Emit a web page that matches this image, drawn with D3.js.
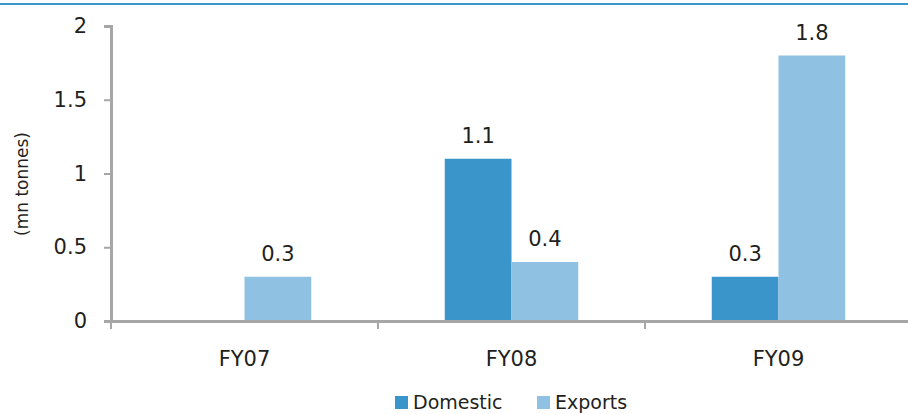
<!DOCTYPE html>
<html>
<head>
<meta charset="utf-8">
<script src="https://cdn.jsdelivr.net/npm/d3@7"></script>
<style>
  body { margin: 0; background: #fff; }
  text { font-family: "DejaVu Sans", sans-serif; fill: #231F20; }
</style>
</head>
<body>
<script>
// data
var categories = ["FY07", "FY08", "FY09"];
var seriesNames = ["Domestic", "Exports"];
var domestic = [0, 1.1, 0.3];
var exportsVals = [0.3, 0.4, 1.8];
var yTicks = [0, 0.5, 1, 1.5, 2];
var colors = ["#3A96CA", "#8FC1E3"];

var W = 908, H = 414;
var margin = { top: 26, right: -4, bottom: 93, left: 111 };
var width = W - margin.left - margin.right,
  height = H - margin.top - margin.bottom;

var svg = d3.select("body").append("svg").attr("width", W).attr("height", H);

// top rule
svg.append("rect").attr("x", 0).attr("y", 3).attr("width", W).attr("height", 2).attr("fill", "#3A96CA");

var g = svg.append("g").attr("transform", "translate(" + margin.left + "," + margin.top + ")");

var x0 = d3.scaleBand().domain(categories).range([0, width]);
var x1 = d3.scaleBand().domain(seriesNames)
  .range([x0.bandwidth() * 0.25, x0.bandwidth() * 0.75]);
var y = d3.scaleLinear().domain([0, 2]).range([height, 0]);

var rows = categories.map(function (c, i) {
  return { cat: c, vals: [
    { key: "Domestic", v: domestic[i] },
    { key: "Exports", v: exportsVals[i] }
  ] };
});

// bars
var grp = g.selectAll(".grp").data(rows).enter().append("g")
  .attr("transform", function (d) { return "translate(" + x0(d.cat) + ",0)"; });

grp.selectAll("rect")
  .data(function (d) { return d.vals.filter(function (e) { return e.v > 0; }); })
  .enter().append("rect")
  .attr("x", function (d) { return x1(d.key); })
  .attr("y", function (d) { return y(d.v); })
  .attr("width", x1.bandwidth())
  .attr("height", function (d) { return height - y(d.v); })
  .attr("fill", function (d) { return colors[seriesNames.indexOf(d.key)]; });

grp.selectAll(".lbl")
  .data(function (d) { return d.vals.filter(function (e) { return e.v > 0; }); })
  .enter().append("text")
  .attr("class", "lbl")
  .attr("x", function (d) { return x1(d.key) + x1.bandwidth() / 2; })
  .attr("y", function (d) { return y(d.v) - 16; })
  .attr("text-anchor", "middle")
  .style("font-size", "21px")
  .text(function (d) { return d.v; });

// y axis
var yAxis = g.append("g").call(
  d3.axisLeft(y).tickValues(yTicks).tickSize(7).tickPadding(17)
    .tickFormat(function (d) { return d; })
);
yAxis.selectAll("text").style("font-size", "21px");

// x axis
var xAxis = g.append("g").attr("transform", "translate(0," + height + ")")
  .call(d3.axisBottom(x0).tickSize(0));
xAxis.selectAll("text").style("font-size", "21px").attr("y", 45).attr("dy", 0);
xAxis.selectAll(".bound").data(d3.range(categories.length + 1)).enter().append("line")
  .attr("x1", function (i) { return i * x0.step(); })
  .attr("x2", function (i) { return i * x0.step(); })
  .attr("y1", 0).attr("y2", 8)
  .attr("stroke", "#A6A6A6").attr("stroke-width", 2);

svg.selectAll(".domain").attr("stroke", "#A6A6A6").attr("stroke-width", 3);
svg.selectAll(".tick line").attr("stroke", "#A6A6A6").attr("stroke-width", 2);

// axis title
svg.append("text")
  .attr("transform", "translate(28,184) rotate(-90)")
  .attr("text-anchor", "middle")
  .style("font-size", "17px")
  .text("(mn tonnes)");

// legend
var legend = svg.append("g").attr("transform", "translate(395,396)");
var lx = [0, 142];
seriesNames.forEach(function (s, i) {
  legend.append("rect").attr("x", lx[i]).attr("y", 0).attr("width", 13).attr("height", 13).attr("fill", colors[i]);
  legend.append("text").attr("x", lx[i] + 18).attr("y", 13).style("font-size", "19px").text(s);
});
</script>
</body>
</html>
